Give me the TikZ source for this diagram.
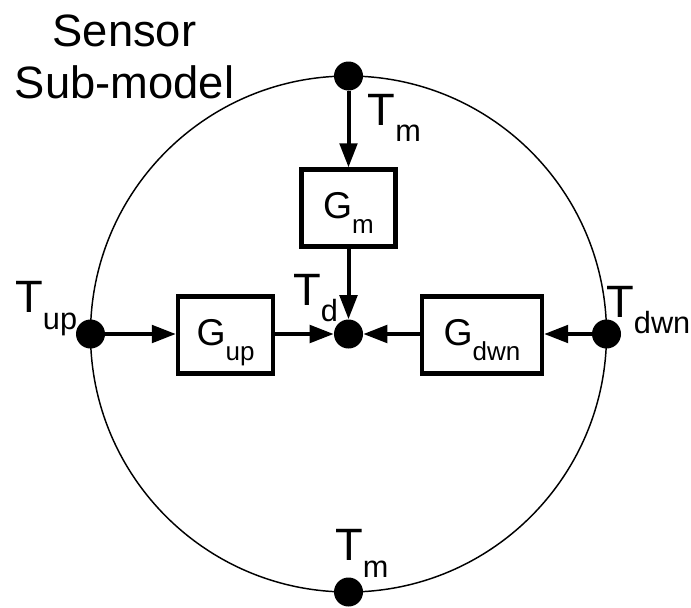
\documentclass[tikz,border=0pt]{standalone}
\usepackage{fontspec}
\setmainfont{Liberation Sans}
\usetikzlibrary{arrows.meta}
\newcommand{\tsub}[1]{\raisebox{-12.5pt}{\fontsize{23pt}{27pt}\selectfont #1}}
\newcommand{\gsub}[1]{\raisebox{-11.5pt}{\fontsize{19.5pt}{23pt}\selectfont #1}}
\tikzset{
  blk/.style={draw,line width=3.2pt,minimum height=57.75pt,inner sep=0pt,
    text height=20pt,text depth=4.2pt,font=\fontsize{28pt}{33pt}\selectfont},
  dot/.style={circle,fill,inner sep=0pt,minimum size=21.75pt},
  flow/.style={-{Triangle[length=18pt,width=13pt]},line width=3pt},
  tlbl/.style={anchor=base west,inner sep=0pt,font=\fontsize{34pt}{40pt}\selectfont},
}
\begin{document}
\begin{tikzpicture}[x=0.75pt,y=-0.75pt]
  \useasboundingbox (0,0) rectangle (691,607);
  % Outer circle
  \coordinate (ctr) at (348.5,334);
  \draw[line width=1.1pt] (ctr) circle[radius=193.5pt];
  \node[anchor=north,inner sep=0pt,align=center,font=\fontsize{34pt}{39pt}\selectfont]
    (title) at (124.5,15) {Sensor\\Sub-model};
  % Port dots
  \node[dot] (tmtop) at (348.5,76) {};
  \node[dot] (tmbot) at (348.5,592) {};
  \node[dot] (tup) at (90.5,334) {};
  \node[dot] (tdwn) at (606.5,334) {};
  \node[dot] (td) at (ctr) {};
  % Blocks
  \node[blk,minimum width=70.5pt] (gm) at (348.5,208) {G\gsub{m}};
  \node[blk,minimum width=71.25pt] (gup) at (225.5,335) {G\gsub{up}};
  \node[blk,minimum width=90pt] (gdwn) at (482,335) {G\gsub{dwn}};
  % Signal flow
  \draw[flow] (tmtop) -- (gm);
  \draw[flow] (gm) -- (td);
  \draw[flow] (tup) -- (gup.west |- tup);
  \draw[flow] (gup.east |- td) -- (td);
  \draw[flow] (tdwn) -- (gdwn.east |- tdwn);
  \draw[flow] (gdwn.west |- td) -- (td);
  % Port labels
  \node[tlbl] (lmtop) at (367.5,125) {T\tsub{m}};
  \node[tlbl] (ld) at (293,305) {T\tsub{d}};
  \node[tlbl] (lup) at (15,312.7) {T\tsub{up}};
  \node[tlbl] (ldwn) at (606,317) {T\tsub{dwn}};
  \node[tlbl] (lmbot) at (335,560.7) {T\tsub{m}};
\end{tikzpicture}
\end{document}
